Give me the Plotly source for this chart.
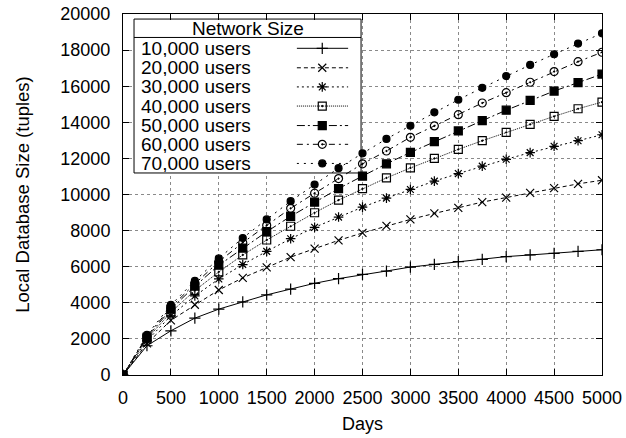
import plotly.graph_objects as go

days = [0, 250, 500, 750, 1000, 1250, 1500, 1750, 2000, 2250, 2500,
        2750, 3000, 3250, 3500, 3750, 4000, 4250, 4500, 4750, 5000]

users_10k = [0, 1620, 2450, 3150, 3650, 4050, 4440, 4760, 5080, 5340, 5570,
             5760, 5980, 6130, 6280, 6410, 6560, 6650, 6740, 6850, 6940]
users_20k = [0, 1750, 3030, 3890, 4710, 5380, 5960, 6530, 7000, 7460, 7870,
             8260, 8620, 8950, 9260, 9580, 9830, 10090, 10350, 10590, 10790]
users_30k = [0, 1900, 3280, 4380, 5320, 6120, 6850, 7550, 8180, 8750, 9300,
             9800, 10280, 10740, 11160, 11570, 11950, 12320, 12670, 12980, 13310]
users_40k = [0, 2000, 3480, 4680, 5710, 6650, 7480, 8240, 8990, 9690, 10320,
             10920, 11470, 12000, 12500, 12980, 13440, 13890, 14330, 14750, 15120]
users_50k = [0, 2080, 3650, 4920, 6080, 7030, 7940, 8790, 9580, 10330, 11020,
             11700, 12330, 12930, 13520, 14090, 14670, 15220, 15730, 16200, 16670]
users_60k = [0, 2150, 3760, 5050, 6280, 7330, 8290, 9235, 10070, 10880, 11700,
             12410, 13170, 13800, 14420, 15070, 15640, 16220, 16810, 17360, 17880]
users_70k = [0, 2220, 3880, 5210, 6460, 7590, 8620, 9630, 10550, 11460, 12280,
             13080, 13810, 14550, 15250, 15910, 16560, 17180, 17770, 18360, 18930]

series_names = ["10,000 users", "20,000 users", "30,000 users", "40,000 users",
                "50,000 users", "60,000 users", "70,000 users"]
series_values = [users_10k, users_20k, users_30k, users_40k, users_50k, users_60k, users_70k]

x_ticks = [0, 500, 1000, 1500, 2000, 2500, 3000, 3500, 4000, 4500, 5000]
y_ticks = [0, 2000, 4000, 6000, 8000, 10000, 12000, 14000, 16000, 18000, 20000]
X_RANGE = [0, 5000]
Y_RANGE = [0, 20000]

# styles
dashes = ["solid", "4px,3px", "2px,3px", "1px,1px", "8px,3px,2px,3px", "6px,4px,2px,4px", "2px,5px"]
symbols = ["cross-thin-open", "x-thin-open", "asterisk-open", "square-open-dot",
           "square", "circle-open-dot", "circle"]
sizes = [8, 8, 8, 8, 8, 8, 7]

FONT = "Liberation Sans, Arial, Helvetica, sans-serif"


def fx(f):  # fraction of plot width -> x axis value
    return X_RANGE[0] + f * (X_RANGE[1] - X_RANGE[0])


def fy(f):  # fraction of plot height -> y axis value
    return Y_RANGE[0] + f * (Y_RANGE[1] - Y_RANGE[0])


# key layout (fractions of the plot area)
key_left, key_right, key_top, key_bottom = 0.023, 0.497, 0.986, 0.5596
sep_y = 0.935
row_y = [0.905, 0.851, 0.798, 0.745, 0.691, 0.639, 0.586]
sample_x0, sample_x1, sample_xm = 0.363, 0.470, 0.416
text_x = 0.036

fig = go.Figure()

# opaque key box (above grid, below data)
fig.add_trace(go.Scatter(
    x=[fx(key_left), fx(key_right), fx(key_right), fx(key_left), fx(key_left)],
    y=[fy(key_bottom), fy(key_bottom), fy(key_top), fy(key_top), fy(key_bottom)],
    mode="lines", fill="toself", fillcolor="white",
    line=dict(color="black", width=1), showlegend=False, hoverinfo="skip"))
fig.add_trace(go.Scatter(
    x=[fx(key_left), fx(key_right)], y=[fy(sep_y), fy(sep_y)],
    mode="lines", line=dict(color="black", width=1), showlegend=False, hoverinfo="skip"))

for name, vals, dsh, sym, sz in zip(series_names, series_values, dashes, symbols, sizes):
    fig.add_trace(go.Scatter(
        x=days, y=vals, name=name, mode="lines+markers",
        line=dict(color="black", width=1, dash=dsh),
        marker=dict(symbol=sym, size=sz, color="black", line=dict(color="black", width=1.2)),
        showlegend=False))

for name, dsh, sym, sz, ry in zip(series_names, dashes, symbols, sizes, row_y):
    fig.add_trace(go.Scatter(
        x=[fx(sample_x0), fx(sample_x1)], y=[fy(ry), fy(ry)], mode="lines",
        line=dict(color="black", width=1, dash=dsh),
        showlegend=False, hoverinfo="skip"))
    fig.add_trace(go.Scatter(
        x=[fx(sample_xm)], y=[fy(ry)], mode="markers",
        marker=dict(symbol=sym, size=sz, color="black", line=dict(color="black", width=1.2)),
        showlegend=False, hoverinfo="skip"))
    fig.add_annotation(x=text_x, y=ry, xref="x domain", yref="y domain",
                       text=name, showarrow=False, xanchor="left", yanchor="middle",
                       height=17, borderpad=0,
                       font=dict(family=FONT, size=19, color="black"))

fig.add_annotation(x=(key_left + key_right) / 2, y=(key_top + sep_y) / 2,
                   xref="x domain", yref="y domain", text="Network Size",
                   showarrow=False, xanchor="center", yanchor="middle",
                   height=17, borderpad=0,
                   font=dict(family=FONT, size=19, color="black"))

axis_common = dict(
    showline=True, linecolor="black", linewidth=1, mirror="ticks",
    ticks="inside", ticklen=6, tickcolor="black", tickwidth=1,
    showgrid=True, gridcolor="#8a8a8a", gridwidth=1, griddash="dot",
    zeroline=False, automargin=False,
    tickfont=dict(family=FONT, size=18, color="black"),
)

fig.update_layout(
    width=626, height=438,
    margin=dict(l=123, r=24, t=14, b=63, autoexpand=False),
    paper_bgcolor="white", plot_bgcolor="white",
    font=dict(family=FONT, size=18, color="black"),
    xaxis=dict(range=X_RANGE, tickvals=x_ticks, ticktext=[str(v) for v in x_ticks],
               title=dict(text="Days", font=dict(family=FONT, size=18), standoff=10),
               ticklabelstandoff=6, **axis_common),
    yaxis=dict(range=Y_RANGE, tickvals=y_ticks, ticktext=[str(v) for v in y_ticks],
               title=dict(text="Local Database Size (tuples)", font=dict(family=FONT, size=18.5), standoff=25),
               ticklabelstandoff=8, **axis_common),
)

fig.write_html("out.html")
